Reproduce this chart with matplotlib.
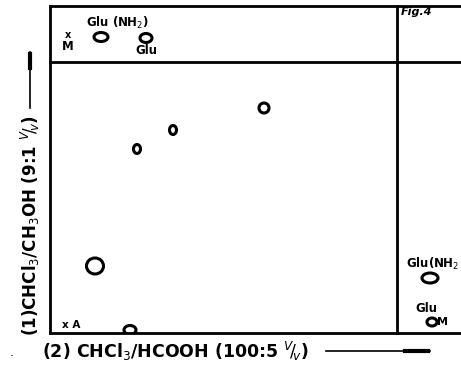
import matplotlib.pyplot as plt
from matplotlib.patches import Ellipse

# Plate geometry (plate units, origin at start point, y upward)
plate_w, plate_h = 411, 327
front_x, front_y = 347, 271   # solvent fronts of direction (2) and (1)

# Spots on the 2D chromatogram: centre x, centre y, width, height
spot_x = [214, 123, 87, 45, 80]
spot_y = [225, 203, 184, 67, 3]
spot_w = [10, 7, 7, 17, 12]
spot_h = [10, 9, 9, 16, 9]

# Reference spots in the strips
ref_x = [51, 96, 380, 382]
ref_y = [296, 295, 55, 11]
ref_w = [14, 12, 16, 10]
ref_h = [9, 9, 10, 8]
ref_labels = ["Glu (NH$_2$)", "Glu", "Glu(NH$_2$", "Glu"]
label_x = [67, 96, 383, 376]
label_y = [310, 283, 69, 24]

fig = plt.figure(figsize=(4.61, 3.67), dpi=100)
ax = fig.add_axes([50 / 461, 34 / 367, 411 / 461, 327 / 367])
ax.set_xlim(0, plate_w)
ax.set_ylim(0, plate_h)
ax.axis("off")

lw = 2.0
ax.plot([0, plate_w], [plate_h, plate_h], color="black", lw=lw, clip_on=False)
ax.plot([0, plate_w], [0, 0], color="black", lw=lw, clip_on=False)
ax.plot([0, 0], [0, plate_h], color="black", lw=lw, clip_on=False)
ax.plot([0, plate_w], [front_y, front_y], color="black", lw=lw, clip_on=False)
ax.plot([front_x, front_x], [0, plate_h], color="black", lw=lw, clip_on=False)

for x, y, w, h in zip(spot_x, spot_y, spot_w, spot_h):
    ax.add_patch(Ellipse((x, y), w, h, fill=False, ec="black", lw=2.2))

for x, y, w, h in zip(ref_x, ref_y, ref_w, ref_h):
    ax.add_patch(Ellipse((x, y), w, h, fill=False, ec="black", lw=2.2))
for lx, ly, lab in zip(label_x, label_y, ref_labels):
    ax.text(lx, ly, lab, ha="center", va="center", fontsize=8.5, fontweight="bold")

# markers M and A
ax.text(18, 298, "x", ha="center", va="center", fontsize=7, fontweight="bold")
ax.text(18, 287, "M", ha="center", va="center", fontsize=8.5, fontweight="bold")
ax.text(21, 8, "x A", ha="center", va="center", fontsize=7.5, fontweight="bold")
ax.text(392, 11, "M", ha="center", va="center", fontsize=8, fontweight="bold")

ax.text(351, 321, "Fig.4", ha="left", va="center", fontsize=8,
        fontstyle="italic", fontweight="bold")

# axis labels with arrows
fig.text(42 / 461, 1 - 351 / 367, "(2) CHCl$_3$/HCOOH (100:5 $^V\\!/\\!_v$)",
         ha="left", va="center", fontsize=12.5, fontweight="bold")
fig.text(10 / 461, 1 - 352 / 367, ".", fontsize=9, va="center")
fig.add_artist(plt.Line2D([326 / 461, 430 / 461], [1 - 351 / 367] * 2,
                          color="black", lw=1.2))
fig.add_artist(plt.Line2D([405 / 461, 428 / 461], [1 - 351 / 367] * 2,
                          color="black", lw=3))

fig.text(30 / 461, 1 - 226 / 367, "(1)CHCl$_3$/CH$_3$OH (9:1 $^V\\!/\\!_v$)",
         rotation=90, ha="center", va="center", fontsize=12, fontweight="bold")
fig.add_artist(plt.Line2D([30 / 461] * 2, [1 - 108 / 367, 1 - 52 / 367],
                          color="black", lw=1.2))
fig.add_artist(plt.Line2D([30 / 461] * 2, [1 - 68 / 367, 1 - 54 / 367],
                          color="black", lw=3))

fig.savefig("out.png", dpi=100)
